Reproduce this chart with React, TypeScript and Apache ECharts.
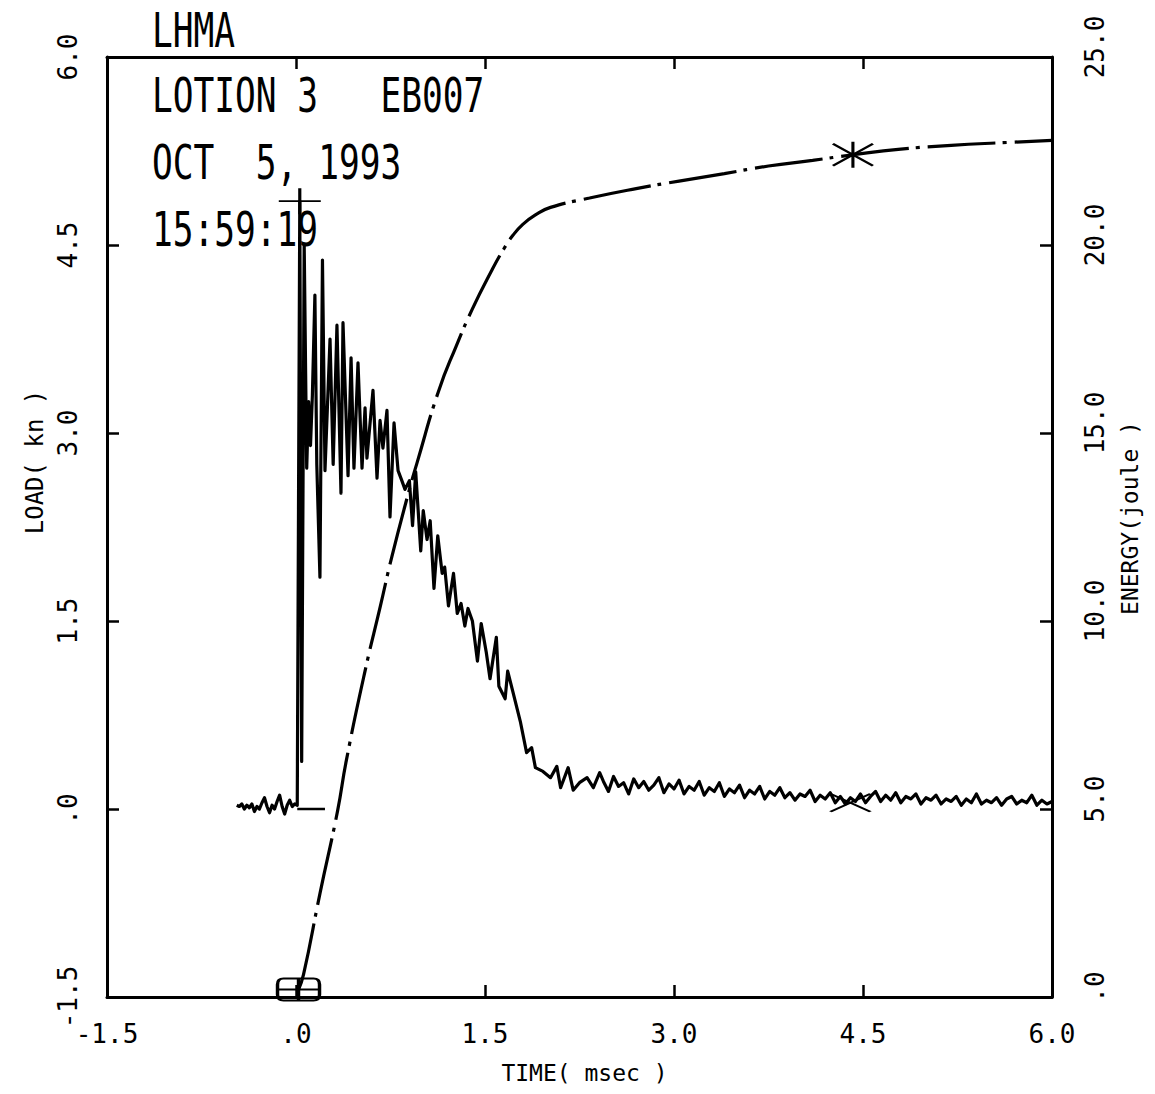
import React, { useEffect, useRef } from 'react';
import * as echarts from 'echarts';

// ---- tick labels ----
const timeTickLabels = ['-1.5', '.0', '1.5', '3.0', '4.5', '6.0'];
const loadTickLabels = ['-1.5', '.0', '1.5', '3.0', '4.5', '6.0'];
const energyTickLabels = ['.0', '5.0', '10.0', '15.0', '20.0', '25.0'];

// ---- header texts ----
const headerLines = ['LHMA', 'LOTION 3   EB007', 'OCT  5, 1993', '15:59:19'];

// ---- load trace (time msec, load kN) ----
const preTriggerLoad = [
  [-0.47, 0.03], [-0.45, 0.02], [-0.43, 0.04], [-0.41, 0.0], [-0.39, 0.03], [-0.37, 0.01],
  [-0.35, 0.04], [-0.33, -0.02], [-0.31, 0.02], [-0.29, 0.0], [-0.27, 0.05], [-0.25, 0.09],
  [-0.23, 0.02], [-0.21, -0.03], [-0.19, 0.03], [-0.17, 0.0], [-0.15, 0.06], [-0.13, 0.11],
  [-0.11, 0.02], [-0.09, -0.04], [-0.07, 0.03], [-0.05, 0.07], [-0.03, 0.02], [-0.01, 0.04],
];

const impactLoad = [
  [0.01, 0.03], [0.03, 4.85], [0.045, 0.38], [0.065, 4.5], [0.085, 2.72], [0.1, 3.25],
  [0.115, 2.9], [0.13, 3.3], [0.15, 4.1], [0.165, 2.75], [0.19, 1.85], [0.21, 4.38],
  [0.23, 2.7], [0.27, 3.75], [0.295, 2.75], [0.325, 3.86], [0.357, 2.52], [0.373, 3.88],
  [0.413, 2.66], [0.437, 3.6], [0.46, 2.72], [0.492, 3.56], [0.524, 2.72], [0.548, 3.2],
  [0.563, 2.8], [0.611, 3.34], [0.643, 2.64], [0.667, 3.1], [0.69, 2.88], [0.722, 3.18],
  [0.746, 2.33], [0.778, 3.08], [0.81, 2.7], [0.84, 2.62], [0.865, 2.55], [0.9, 2.62],
  [0.925, 2.26], [0.95, 2.69], [0.99, 2.06], [1.01, 2.38], [1.04, 2.15], [1.065, 2.3],
  [1.095, 1.76], [1.125, 2.18], [1.16, 1.88], [1.18, 1.93], [1.21, 1.62], [1.25, 1.88],
  [1.28, 1.56], [1.31, 1.64], [1.34, 1.46], [1.365, 1.6], [1.4, 1.5], [1.44, 1.18],
  [1.47, 1.48], [1.51, 1.25], [1.54, 1.04], [1.59, 1.37], [1.61, 0.98], [1.66, 0.88],
  [1.68, 1.1], [1.72, 0.94], [1.78, 0.7], [1.83, 0.45], [1.87, 0.49], [1.9, 0.33],
  [1.96, 0.3], [2.02, 0.25], [2.07, 0.34], [2.1, 0.17], [2.16, 0.33], [2.2, 0.15],
  [2.25, 0.21], [2.31, 0.25], [2.36, 0.17], [2.41, 0.29],
];

const tailLoad = [
  [2.44, 0.22], [2.48, 0.14], [2.52, 0.26], [2.56, 0.18], [2.6, 0.21], [2.64, 0.12],
  [2.68, 0.24], [2.72, 0.17], [2.76, 0.22], [2.8, 0.15], [2.84, 0.19], [2.88, 0.25],
  [2.92, 0.13], [2.96, 0.2], [3.0, 0.16], [3.04, 0.23], [3.08, 0.12], [3.12, 0.18],
  [3.16, 0.15], [3.2, 0.22], [3.24, 0.11], [3.28, 0.17], [3.32, 0.14], [3.36, 0.21],
  [3.4, 0.1], [3.44, 0.16], [3.48, 0.13], [3.52, 0.19], [3.56, 0.09], [3.6, 0.15],
  [3.64, 0.12], [3.68, 0.18], [3.72, 0.08], [3.76, 0.14], [3.8, 0.11], [3.84, 0.17],
  [3.88, 0.09], [3.92, 0.13], [3.96, 0.07], [4.0, 0.12], [4.04, 0.1], [4.08, 0.15],
  [4.12, 0.06], [4.16, 0.11], [4.2, 0.08], [4.24, 0.13], [4.28, 0.05], [4.32, 0.1],
  [4.36, 0.04], [4.4, 0.09], [4.44, 0.06], [4.48, 0.12], [4.52, 0.05], [4.56, 0.1],
  [4.6, 0.14], [4.64, 0.06], [4.68, 0.11], [4.72, 0.07], [4.76, 0.13], [4.8, 0.05],
  [4.84, 0.1], [4.88, 0.08], [4.92, 0.12], [4.96, 0.04], [5.0, 0.09], [5.04, 0.07],
  [5.08, 0.11], [5.12, 0.04], [5.16, 0.08], [5.2, 0.06], [5.24, 0.1], [5.28, 0.03],
  [5.32, 0.08], [5.36, 0.05], [5.4, 0.12], [5.44, 0.04], [5.48, 0.07], [5.52, 0.05],
  [5.56, 0.09], [5.6, 0.03], [5.64, 0.08], [5.68, 0.1], [5.72, 0.04], [5.76, 0.07],
  [5.8, 0.05], [5.84, 0.11], [5.88, 0.03], [5.92, 0.07], [5.96, 0.04], [6.0, 0.06],
];

const triggerBaseline = [[0.01, 0], [0.23, 0]];

// ---- energy curve (time msec, energy joule) ----
const energyCurve = [
  [0.02, 0.2], [0.06, 0.6], [0.19, 2.75], [0.33, 4.95], [0.4, 6.3], [0.55, 8.7],
  [0.67, 10.4], [0.76, 11.7], [0.9, 13.5], [0.96, 14.2], [1.13, 16.1], [1.27, 17.3],
  [1.4, 18.3], [1.55, 19.3], [1.65, 19.9], [1.72, 20.25], [1.8, 20.55], [1.9, 20.8],
  [2.02, 21.0], [2.33, 21.25], [2.7, 21.5], [3.04, 21.7], [3.4, 21.9], [3.75, 22.1],
  [4.1, 22.25], [4.42, 22.4], [4.8, 22.55], [5.2, 22.65], [5.6, 22.72], [6.0, 22.78],
];

// ---- markers ----
const peakLoadMarker = [[0.03, 4.85]];
const endLoadMarker = [[4.4, 0.05]];
const endEnergyMarker = [[4.42, 22.4]];
const startEnergyMarker = [[0.02, 0.2]];

const FONT = '"DejaVu Sans Mono", monospace';
const INK = '#000';

const pick = (labels: string[], min: number, step: number) => (v: number) =>
  labels[Math.round((v - min) / step)] ?? '';

export default function App() {
  const ref = useRef<HTMLDivElement>(null);

  useEffect(() => {
    const chart = echarts.init(ref.current!, null, { renderer: 'svg' });

    const axisLine = { show: true, onZero: false, lineStyle: { color: INK, width: 3 } };
    const axisTick = { show: true, inside: true, length: 12, lineStyle: { color: INK, width: 2.5 } };
    const markStyle = { color: 'transparent', borderColor: INK, borderWidth: 2.5, opacity: 1 };

    const headerY = [30, 95, 162, 229];

    chart.setOption({
      animation: false,
      backgroundColor: '#fff',
      grid: { left: 107, right: 103, top: 57, bottom: 97, containLabel: false },
      xAxis: [
        {
          type: 'value', min: -1.5, max: 6, interval: 1.5, position: 'bottom',
          axisLine, axisTick, splitLine: { show: false },
          axisLabel: {
            formatter: pick(timeTickLabels, -1.5, 1.5), fontFamily: FONT, fontSize: 26,
            color: INK, margin: 24,
          },
          name: 'TIME( msec )', nameLocation: 'middle', nameGap: 64,
          nameTextStyle: { fontFamily: FONT, fontSize: 23, color: INK, padding: [0, 0, 0, 10] },
        },
        {
          type: 'value', min: -1.5, max: 6, interval: 1.5, position: 'top',
          axisLine, axisTick, splitLine: { show: false }, axisLabel: { show: false },
        },
      ],
      yAxis: [
        {
          type: 'value', min: -1.5, max: 6, interval: 1.5, position: 'left',
          axisLine, axisTick, splitLine: { show: false },
          axisLabel: {
            formatter: pick(loadTickLabels, -1.5, 1.5), fontFamily: FONT, fontSize: 26,
            color: INK, rotate: 90, margin: 26,
          },
          name: 'LOAD( kn )', nameLocation: 'middle', nameRotate: 90, nameGap: 60,
          nameTextStyle: { fontFamily: FONT, fontSize: 24, color: INK, padding: [0, 0, 0, 130] },
        },
        {
          type: 'value', min: 0, max: 25, interval: 5, position: 'right',
          axisLine, axisTick, splitLine: { show: false },
          axisLabel: {
            formatter: pick(energyTickLabels, 0, 5), fontFamily: FONT, fontSize: 26,
            color: INK, rotate: 90, margin: 30, padding: [0, 0, 0, 20],
          },
          name: 'ENERGY(joule )', nameLocation: 'middle', nameRotate: 90, nameGap: 66,
          nameTextStyle: { fontFamily: FONT, fontSize: 23, color: INK, padding: [0, 0, 0, 18] },
        },
      ],
      graphic: headerLines.map((t, i) => ({
        type: 'text',
        x: 152,
        y: headerY[i],
        scaleY: 1.39,
        z: 100,
        style: {
          text: t, fill: INK, fontFamily: FONT, fontSize: 34.5,
          align: 'left', verticalAlign: 'middle',
        },
      })),
      series: [
        {
          name: 'Load', type: 'line', xAxisIndex: 0, yAxisIndex: 0,
          data: [...preTriggerLoad, ...impactLoad, ...tailLoad],
          showSymbol: false, symbol: 'none', smooth: false,
          lineStyle: { color: INK, width: 3.2, join: 'round' },
          z: 3,
        },
        {
          name: 'Trigger', type: 'line', xAxisIndex: 0, yAxisIndex: 0,
          data: triggerBaseline, showSymbol: false, symbol: 'none',
          lineStyle: { color: INK, width: 2.5 },
        },
        {
          name: 'Energy', type: 'line', xAxisIndex: 0, yAxisIndex: 1,
          data: energyCurve, showSymbol: false, symbol: 'none', smooth: true,
          lineStyle: { color: INK, width: 3.2, type: [68, 7, 4, 8], cap: 'butt' },
          z: 3,
        },
        {
          name: 'Peak', type: 'scatter', xAxisIndex: 0, yAxisIndex: 0,
          data: peakLoadMarker,
          symbol: 'path://M0,13L42,13M21,0L21,26', symbolSize: [42, 26],
          itemStyle: markStyle, z: 5,
        },
        {
          name: 'EndLoad', type: 'scatter', xAxisIndex: 0, yAxisIndex: 0,
          data: endLoadMarker,
          symbol: 'path://M0,0L40,18M0,18L40,0', symbolSize: [40, 18],
          itemStyle: markStyle, z: 5,
        },
        {
          name: 'EndEnergy', type: 'scatter', xAxisIndex: 0, yAxisIndex: 1,
          data: endEnergyMarker,
          symbol: 'path://M0,2L40,24M0,24L40,2M20,0L20,26', symbolSize: [40, 26],
          itemStyle: markStyle, z: 5,
        },
        {
          name: 'StartEnergy', type: 'scatter', xAxisIndex: 0, yAxisIndex: 1,
          data: startEnergyMarker,
          symbol: 'path://M6,0L36,0Q42,0 42,6L42,16Q42,22 36,22L6,22Q0,22 0,16L0,6Q0,0 6,0ZM0,11L42,11M21,0L21,22',
          symbolSize: [42, 22],
          itemStyle: markStyle, z: 5,
        },
      ],
    });

    return () => chart.dispose();
  }, []);

  return (
    <div
      ref={ref}
      style={{ position: 'absolute', left: 0, top: 0, width: 1155, height: 1094, background: '#fff' }}
    />
  );
}
